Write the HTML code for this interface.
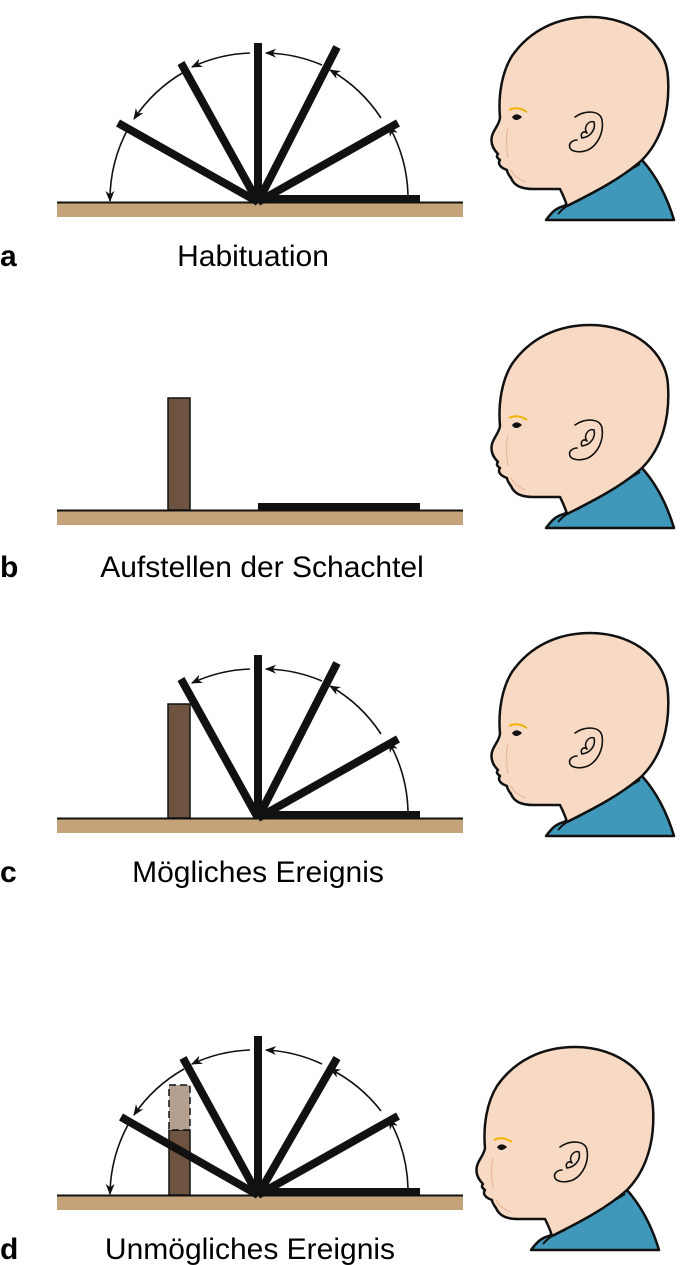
<!DOCTYPE html>
<html><head><meta charset="utf-8"><style>
html,body{margin:0;padding:0;background:#fff;}
svg{display:block;}
text{font-family:"Liberation Sans",sans-serif;}
</style></head><body>
<svg width="685" height="1265" viewBox="0 0 685 1265" xmlns="http://www.w3.org/2000/svg">
<defs>
<marker id="ah" viewBox="0 0 10 10" refX="9" refY="5" markerWidth="7" markerHeight="7" orient="auto-start-reverse">
<path d="M0,1 L10,5 L0,9 L3,5 z" fill="#111"/></marker>
<g id="baby">
<path d="M546,220 C552,212 556,208 564,206 L642,160 C658,178 668,200 674,220 Z" fill="#3f97b9" stroke="#111" stroke-width="2.5" stroke-linejoin="round"/>
<path d="M558,214 C565,206 570,204 578,201 L640,164" fill="none" stroke="#111" stroke-width="2"/>
<path d="M567,206 C565,199 562,193 560,189 L533,189 C520,189 514,185 511,178 C508,174 507,172 507,170 C501,168 497,164 500,160 C497,158 496,156 498,154 C494,150 490,144 492,136 C494,129 499,125 500,118 C498,95 502,72 512,56 C530,30 558,17 590,17 C635,17 667,45 668,78 C670,110 662,140 642,160 C622,178 595,192 567,206 Z" fill="#f8dac4" stroke="#111" stroke-width="2.5" stroke-linejoin="round"/>
<path d="M509,110 C515,107 521,108 527,112" fill="none" stroke="#f0b400" stroke-width="2"/>
<path d="M512,117 C515,113 519,114 522,117 C518,121 514,121 512,117 Z" fill="#111"/>
<path d="M508,128 C505,140 507,150 508,158 M511,170 C514,176 520,180 526,182" fill="none" stroke="#e9b89d" stroke-width="1.2"/>
<path d="M575,117 C585,110 600,110 602,120 C604,132 598,145 588,150 C580,153 572,152 570,148 C568,143 573,140 577,140 M587,133 C583,128 588,120 594,122 C596,130 590,137 582,138 C580,134 583,130 587,133" fill="none" stroke="#111" stroke-width="1.6" stroke-linecap="round"/>
</g>
</defs>

<!-- Panel a -->
<g>
<rect x="57" y="203" width="406" height="14" fill="#c4a27a"/>
<line x1="57" y1="202.5" x2="463" y2="202.5" stroke="#111" stroke-width="2"/>
<rect x="258" y="195" width="162" height="7" fill="#111"/>
<g stroke="#111" stroke-width="8">
<line x1="258" y1="202" x2="258" y2="43"/>
<line x1="258" y1="202" x2="398" y2="123"/>
<line x1="258" y1="202" x2="337" y2="47"/>
<line x1="258" y1="202" x2="118" y2="123"/>
<line x1="258" y1="202" x2="181" y2="63"/>
</g>
<g fill="none" stroke="#111" stroke-width="1.6" marker-end="url(#ah)">
<path d="M408,195 A150,150 0 0 0 389,126"/>
<path d="M381,118 A150,150 0 0 0 330,70"/>
<path d="M322,65 A150,150 0 0 0 266,53"/>
<path d="M250,53 A150,150 0 0 0 192,67"/>
<path d="M184,72 A150,150 0 0 0 134,119"/>
<path d="M129,127 A150,150 0 0 0 110,201"/>
</g>
<use href="#baby"/>
<text x="0" y="266" font-size="30" font-weight="bold">a</text>
<text x="253" y="266" font-size="30" text-anchor="middle">Habituation</text>
</g>

<!-- Panel b -->
<g>
<rect x="57" y="511" width="406" height="14" fill="#c4a27a"/>
<line x1="57" y1="510.5" x2="463" y2="510.5" stroke="#111" stroke-width="2"/>
<rect x="258" y="503" width="162" height="7" fill="#111"/>
<rect x="168" y="398" width="22" height="112" fill="#6e5440" stroke="#111" stroke-width="1.5"/>
<use href="#baby" transform="translate(0,308)"/>
<text x="0" y="577" font-size="30" font-weight="bold">b</text>
<text x="262" y="577" font-size="30" text-anchor="middle">Aufstellen der Schachtel</text>
</g>

<!-- Panel c -->
<g>
<rect x="57" y="819" width="406" height="14" fill="#c4a27a"/>
<line x1="57" y1="818.5" x2="463" y2="818.5" stroke="#111" stroke-width="2"/>
<rect x="258" y="811" width="162" height="7" fill="#111"/>
<rect x="168" y="704" width="22" height="114" fill="#6e5440" stroke="#111" stroke-width="1.5"/>
<g stroke="#111" stroke-width="8">
<line x1="258" y1="818" x2="258" y2="655"/>
<line x1="258" y1="818" x2="398" y2="739"/>
<line x1="258" y1="818" x2="337" y2="663"/>
<line x1="258" y1="818" x2="181" y2="679"/>
</g>
<g fill="none" stroke="#111" stroke-width="1.6" marker-end="url(#ah)">
<path d="M408,811 A150,150 0 0 0 389,742"/>
<path d="M381,734 A150,150 0 0 0 330,686"/>
<path d="M322,681 A150,150 0 0 0 266,669"/>
<path d="M250,669 A150,150 0 0 0 192,683"/>
</g>
<use href="#baby" transform="translate(0,616)"/>
<text x="0" y="882" font-size="30" font-weight="bold">c</text>
<text x="258" y="882" font-size="30" text-anchor="middle">Mögliches Ereignis</text>
</g>

<!-- Panel d -->
<g>
<rect x="57" y="1196" width="406" height="14" fill="#c4a27a"/>
<line x1="57" y1="1195.5" x2="463" y2="1195.5" stroke="#111" stroke-width="2"/>
<rect x="258" y="1188" width="162" height="7" fill="#111"/>
<rect x="169" y="1130" width="21" height="65" fill="#6e5440" stroke="#111" stroke-width="1.5"/>
<rect x="169" y="1085" width="21" height="45" fill="#b3a090" stroke="#111" stroke-width="1.5" stroke-dasharray="7,4"/>
<g stroke="#111" stroke-width="8">
<line x1="258" y1="1195" x2="258" y2="1036"/>
<line x1="258" y1="1195" x2="398" y2="1116"/>
<line x1="258" y1="1195" x2="337" y2="1058"/>
<line x1="258" y1="1195" x2="121" y2="1117"/>
<line x1="258" y1="1195" x2="183" y2="1058"/>
</g>
<g fill="none" stroke="#111" stroke-width="1.6" marker-end="url(#ah)">
<path d="M408,1188 A150,150 0 0 0 389,1119"/>
<path d="M381,1111 A150,150 0 0 0 330,1069"/>
<path d="M322,1064 A150,150 0 0 0 266,1050"/>
<path d="M250,1050 A150,150 0 0 0 192,1064"/>
<path d="M184,1069 A150,150 0 0 0 134,1115"/>
<path d="M129,1123 A150,150 0 0 0 110,1194"/>
</g>
<use href="#baby" transform="translate(-15,1030)"/>
<text x="0" y="1259" font-size="30" font-weight="bold">d</text>
<text x="250" y="1259" font-size="30" text-anchor="middle">Unmögliches Ereignis</text>
</g>
</svg>
</body></html>
